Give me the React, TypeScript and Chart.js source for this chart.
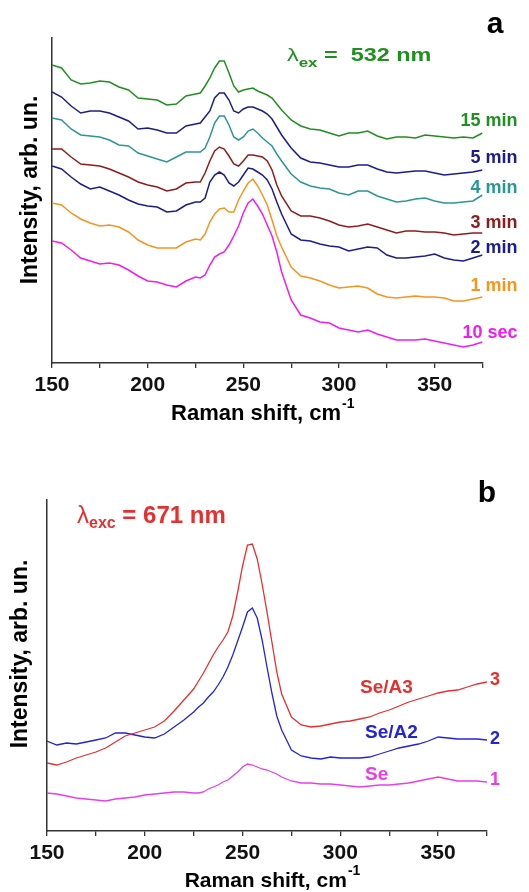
import { useEffect, useRef } from 'react';
import { Chart, registerables } from 'chart.js';

Chart.register(...registerables);

const FONT = '"Liberation Sans", Arial, Helvetica, sans-serif';

// Raman shift grid (cm-1)
const X_SHIFT = [150,155,160,165,170,175,180,185,190,195,200,205,210,215,220,225,
  227.5,230,232.5,235,237.5,240,242.5,245,247.5,250,252.5,255,257.5,260,262.5,265,267.5,270,
  275,280,285,290,295,300,305,310,315,320,325,330,335,340,345,350,355,360,365,370,375];

// Panel a (λex = 532 nm), intensity in arbitrary units (offset spectra)
const A_15MIN = [298,295,283,279,280,282,281,276,273,265,264,263,258,259,267,269,
  270,277,285,295,302,302,290,277,271,273,274,275,272,270,268,265,259,253,
  243,237,234,233,230,227,230,230,232,227,224,226,226,225,228,227,226,225,226,225,230];
const A_5MIN = [271,266,257,250,252,252,250,246,242,234,235,233,230,230,237,239,
  240,246,252,265,270,270,263,252,250,254,256,256,254,252,249,244,236,228,
  215,205,201,200,198,196,196,198,198,194,191,190,191,192,192,190,188,189,190,191,193];
const A_4MIN = [245,243,234,228,227,226,223,218,217,210,207,204,201,206,211,211,
  211,215,226,240,247,247,238,226,223,226,232,234,230,225,221,217,209,202,
  189,181,177,175,174,170,168,172,172,167,164,161,162,164,165,162,160,160,161,162,168];
const A_3MIN = [214,214,206,199,198,197,194,190,186,181,178,176,172,174,180,181,
  181,190,202,212,216,214,207,199,197,202,208,208,207,206,202,193,178,167,
  152,147,147,145,142,138,136,137,139,136,133,130,132,132,131,131,130,128,129,130,130];
const A_2MIN = [197,194,186,179,174,176,172,168,163,159,157,156,151,152,158,161,
  161,165,181,188,191,188,180,177,181,188,195,194,191,188,183,174,161,149,
  129,123,122,119,117,116,112,114,116,115,108,105,105,106,107,109,105,103,102,105,108];
const A_1MIN = [160,158,150,144,140,137,138,136,131,123,118,115,115,115,121,124,
  123,129,141,149,154,155,151,151,163,172,180,184,177,168,158,143,127,116,
  96,87,85,82,78,75,76,77,75,69,66,65,66,67,66,66,65,62,62,64,66];
const A_10SEC = [122,120,113,105,102,99,100,98,93,87,82,81,78,76,82,86,
  85,88,98,106,109,111,118,127,137,150,160,164,157,149,138,127,111,91,
  63,48,45,41,40,35,33,31,33,29,26,23,23,23,24,22,20,18,16,18,21];

// Panel b (λexc = 671 nm)
const B_SEA3 = [68,66,69,73,76,79,83,89,95,98,101,104,110,120,131,142,
  150,158,167,176,184,191,199,215,239,265,286,287,272,247,219,189,159,137,
  114,106,104,105,107,109,110,112,114,118,121,125,129,132,135,138,140,141,144,147,149];
const B_SEA2 = [90,86,88,87,89,91,93,98,98,96,94,93,97,104,111,119,
  124,128,134,139,146,154,164,176,190,204,219,223,213,191,164,138,115,101,
  81,75,73,72,74,73,73,73,74,77,80,83,85,87,90,94,93,92,92,92,91];
const B_SE = [38,37,35,33,32,31,30,32,33,34,36,37,38,39,39,38,
  38,39,42,44,46,49,51,55,59,64,67,66,64,62,61,59,57,54,
  50,48,48,47,47,46,45,44,45,46,46,47,48,50,52,54,52,50,50,50,49];

const X_MIN = 150;
const X_MAX = 375;
const X_STEP = 25;

const GREEN = '#1f8f1f';
const NAVY = '#1c1c8c';
const TEAL = '#2a9696';
const DARKRED = '#8e1c1c';
const ORANGE = '#f7941e';
const MAGENTA = '#f01cf0';
const RED_B = '#e53030';
const BLUE_B = '#2323d8';
const MAG_B = '#e83ee8';

const SERIES_A = [
  { name: '15 min', values: A_15MIN, color: GREEN },
  { name: '5 min', values: A_5MIN, color: NAVY },
  { name: '4 min', values: A_4MIN, color: TEAL },
  { name: '3 min', values: A_3MIN, color: DARKRED },
  { name: '2 min', values: A_2MIN, color: NAVY },
  { name: '1 min', values: A_1MIN, color: ORANGE },
  { name: '10 sec', values: A_10SEC, color: MAGENTA },
];
const SERIES_B = [
  { name: 'Se/A3', values: B_SEA3, color: RED_B },
  { name: 'Se/A2', values: B_SEA2, color: BLUE_B },
  { name: 'Se', values: B_SE, color: MAG_B },
];

function drawXTitle(ctx: CanvasRenderingContext2D, cx: number, baseline: number, size: number) {
  const main = 'Raman shift, cm';
  const sup = '-1';
  const mainFont = `bold ${size}px ${FONT}`;
  const supFont = `bold ${Math.round(size * 0.65)}px ${FONT}`;
  ctx.font = mainFont;
  const w1 = ctx.measureText(main).width;
  ctx.font = supFont;
  const w2 = ctx.measureText(sup).width;
  const x0 = cx - (w1 + w2) / 2;
  ctx.fillStyle = '#000';
  ctx.textAlign = 'left';
  ctx.textBaseline = 'alphabetic';
  ctx.font = mainFont;
  ctx.fillText(main, x0, baseline);
  ctx.font = supFont;
  ctx.fillText(sup, x0 + w1 + 1, baseline - size * 0.55);
}

function drawYTitle(ctx: CanvasRenderingContext2D, x: number, cy: number, size: number) {
  ctx.save();
  ctx.translate(x, cy);
  ctx.rotate(-Math.PI / 2);
  ctx.fillStyle = '#000';
  ctx.font = `bold ${size}px ${FONT}`;
  ctx.textAlign = 'center';
  ctx.textBaseline = 'alphabetic';
  ctx.fillText('Intensity, arb. un.', 0, 0);
  ctx.restore();
}

const annotA = {
  id: 'annotA',
  afterDraw(chart: any) {
    const ctx: CanvasRenderingContext2D = chart.ctx;
    const ca = chart.chartArea;
    ctx.save();
    ctx.textBaseline = 'alphabetic';
    ctx.fillStyle = '#000';
    ctx.font = `bold 30px ${FONT}`;
    ctx.textAlign = 'center';
    ctx.fillText('a', 495, 33);
    ctx.save();
    ctx.translate(287, 61);
    ctx.scale(1.3, 1);
    ctx.fillStyle = GREEN;
    ctx.textAlign = 'left';
    ctx.font = `18px ${FONT}`;
    ctx.fillText('λ', 0, 0);
    let x = ctx.measureText('λ').width;
    ctx.font = `bold 13px ${FONT}`;
    ctx.fillText('ex', x, 6);
    x += ctx.measureText('ex').width;
    ctx.font = `bold 18px ${FONT}`;
    ctx.fillText(' =  532 nm', x, 0);
    ctx.restore();
    const baselines = [126, 163, 193, 228, 253, 291, 338];
    ctx.font = `bold 18px ${FONT}`;
    ctx.textAlign = 'right';
    SERIES_A.forEach((s, i) => {
      ctx.fillStyle = s.color;
      ctx.fillText(s.name, ca.right + 35, baselines[i]);
    });
    drawXTitle(ctx, (ca.left + ca.right) / 2 - 5, ca.bottom + 57, 22);
    drawYTitle(ctx, 37, 190, 23);
    ctx.restore();
  },
};

const annotB = {
  id: 'annotB',
  afterDraw(chart: any) {
    const ctx: CanvasRenderingContext2D = chart.ctx;
    const ca = chart.chartArea;
    ctx.save();
    ctx.textBaseline = 'alphabetic';
    ctx.fillStyle = '#000';
    ctx.font = `bold 30px ${FONT}`;
    ctx.textAlign = 'center';
    ctx.fillText('b', 487, 62);
    ctx.fillStyle = RED_B;
    ctx.textAlign = 'left';
    ctx.font = `24px ${FONT}`;
    let x = 77;
    ctx.fillText('λ', x, 83);
    x += ctx.measureText('λ').width;
    ctx.font = `bold 16px ${FONT}`;
    ctx.fillText('exc', x, 88);
    x += ctx.measureText('exc').width;
    ctx.font = `bold 24px ${FONT}`;
    ctx.fillText(' = 671 nm', x, 83);
    const names = [
      { t: 'Se/A3', x: 360, y: 253, c: RED_B },
      { t: 'Se/A2', x: 365, y: 298, c: BLUE_B },
      { t: 'Se', x: 365, y: 340, c: MAG_B },
    ];
    ctx.font = `bold 19px ${FONT}`;
    names.forEach((n) => {
      ctx.fillStyle = n.c;
      ctx.fillText(n.t, n.x, n.y);
    });
    const nums = [
      { t: '3', y: 245, c: RED_B },
      { t: '2', y: 304, c: BLUE_B },
      { t: '1', y: 345, c: MAG_B },
    ];
    ctx.font = `bold 18px ${FONT}`;
    nums.forEach((n) => {
      ctx.fillStyle = n.c;
      ctx.fillText(n.t, ca.right + 3, n.y);
    });
    drawXTitle(ctx, (ca.left + ca.right) / 2 + 5, ca.bottom + 56, 21);
    drawYTitle(ctx, 27, 214, 23);
    ctx.restore();
  },
};

function buildConfig(series: any[], lineWidth: number, pad: any, yWidth: number, xHeight: number, yMax: number, plugin: any): any {
  return {
    type: 'line',
    data: {
      datasets: series.map((s) => ({
        label: s.name,
        data: X_SHIFT.map((x, i) => ({ x, y: s.values[i] })),
        borderColor: s.color,
        borderWidth: lineWidth,
        pointRadius: 0,
        fill: false,
        tension: 0,
      })),
    },
    options: {
      animation: false,
      responsive: false,
      devicePixelRatio: 1,
      layout: { padding: pad },
      plugins: { legend: { display: false }, tooltip: { enabled: false } },
      scales: {
        x: {
          type: 'linear',
          min: X_MIN,
          max: X_MAX,
          afterFit: (s: any) => { s.height = xHeight; },
          ticks: {
            stepSize: X_STEP,
            autoSkip: false,
            maxRotation: 0,
            padding: 5,
            color: '#111',
            font: { family: FONT, size: 21, weight: 'bold' },
            callback: (v: any) => (Number(v) % 50 === 0 ? String(v) : ''),
          },
          grid: { display: true, drawOnChartArea: false, drawTicks: true, tickLength: 5, color: '#333', lineWidth: 1.3 },
          border: { display: true, color: '#333', width: 1.5 },
        },
        y: {
          min: 0,
          max: yMax,
          afterFit: (s: any) => { s.width = yWidth; },
          ticks: { display: false },
          grid: { display: false },
          border: { display: true, color: '#333', width: 1.5 },
        },
      },
    },
    plugins: [plugin],
  };
}

export default function App() {
  const refA = useRef<HTMLCanvasElement>(null);
  const refB = useRef<HTMLCanvasElement>(null);

  useEffect(() => {
    const chartA = new Chart(refA.current as HTMLCanvasElement,
      buildConfig(SERIES_A, 1.5, { top: 38, right: 46.5, left: 0, bottom: 0 }, 52, 77, 325, annotA));
    const chartB = new Chart(refB.current as HTMLCanvasElement,
      buildConfig(SERIES_B, 1.3, { top: 60, right: 42, left: 0, bottom: 0 }, 47, 61, 331, annotB));
    return () => {
      chartA.destroy();
      chartB.destroy();
    };
  }, []);

  return (
    <div style={{ position: 'absolute', left: 0, top: 0, width: 529, height: 892, background: '#fff' }}>
      <canvas ref={refA} width={529} height={440} style={{ position: 'absolute', left: 0, top: 0 }} />
      <canvas ref={refB} width={529} height={452} style={{ position: 'absolute', left: 0, top: 440 }} />
    </div>
  );
}
